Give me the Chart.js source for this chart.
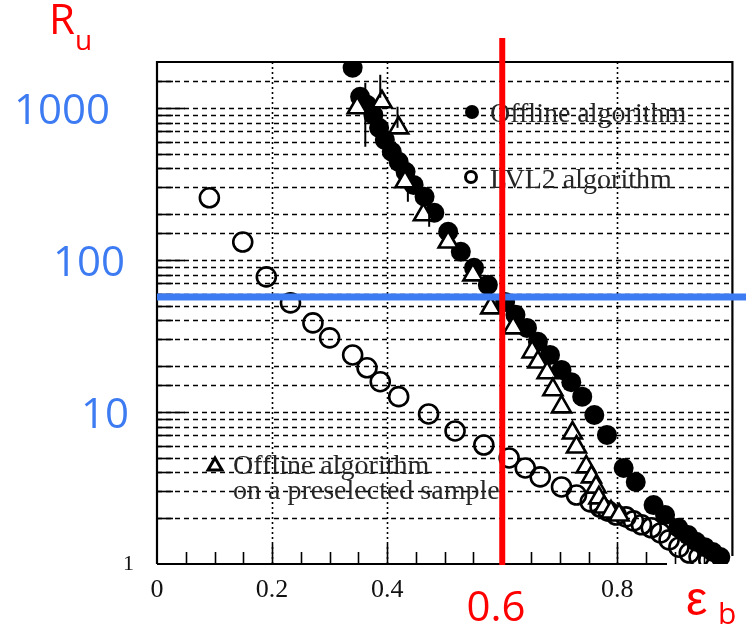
<!DOCTYPE html>
<html>
<head>
<meta charset="utf-8">
<script src="https://cdn.jsdelivr.net/npm/chart.js@4.4.1/dist/chart.umd.min.js"></script>
<style>
    html, body { margin: 0; padding: 0; background: #fff; }
    #wrap { width: 746px; height: 632px; }
</style>
</head>
<body>
<div id="wrap"><canvas id="chart" width="746" height="632"></canvas></div>
<script>
// Offline algorithm (filled circles)
const offlineX = [0.340, 0.353, 0.365, 0.376, 0.386, 0.396, 0.408, 0.420, 0.432, 0.446, 0.465, 0.482,
    0.506, 0.528, 0.551, 0.575, 0.605, 0.623, 0.643, 0.662, 0.683, 0.703, 0.720, 0.739,
    0.760, 0.782, 0.811, 0.832, 0.863, 0.883, 0.906, 0.923, 0.937, 0.952, 0.966, 0.979];
const offlineY = [1833, 1181, 1047, 899, 738, 615, 514, 441, 379, 311, 260, 204,
    153, 113, 88.6, 68.5, 52.9, 43.5, 35.7, 28.9, 23.7, 18.9, 15.7, 12.6,
    9.55, 7.06, 4.28, 3.46, 2.44, 2.10, 1.73, 1.55, 1.40, 1.29, 1.20, 1.11];

// LVL2 algorithm (open circles)
const lvl2X = [0.091, 0.149, 0.190, 0.232, 0.271, 0.300, 0.340, 0.365, 0.388, 0.420, 0.472, 0.518,
    0.568, 0.612, 0.640, 0.666, 0.703, 0.729, 0.753, 0.770, 0.784, 0.798, 0.815, 0.828,
    0.842, 0.859, 0.875, 0.890, 0.907, 0.925, 0.942, 0.959];
const lvl2Y = [256, 131, 77.3, 52.1, 38.5, 30.7, 23.7, 19.5, 15.8, 12.6, 9.70, 7.50,
    6.06, 4.98, 4.28, 3.74, 3.21, 2.84, 2.56, 2.37, 2.23, 2.10, 2.04, 1.92,
    1.81, 1.73, 1.60, 1.44, 1.29, 1.18, 1.11, 1.06];

// Offline algorithm on a preselected sample (open triangles)
const preselX = [0.348, 0.391, 0.420, 0.431, 0.463, 0.506, 0.549, 0.580, 0.619, 0.652, 0.662, 0.678,
    0.688, 0.703, 0.722, 0.729, 0.746, 0.755, 0.763, 0.768, 0.777, 0.789, 0.803];
const preselY = [1000, 1095, 738, 326, 198, 131, 79.7, 48.3, 35.7, 24.8, 21.3, 18.1,
    14.0, 10.8, 7.27, 5.88, 4.35, 3.74, 3.21, 2.72, 2.37, 2.20, 2.10];

// error bars on the steep part
const errX = [0.362, 0.388, 0.418, 0.436, 0.473];
const errLo = [554, 1164, 738, 241, 165];
const errHi = [1459, 1648, 1016, 298, 198];

// axis labels
const xTickLabels = [0, 0.2, 0.4, 0.8];
const yBigLabels = [1000, 100, 10];

// cut lines
const cutEff = 0.6;
const cutRej = 57;

const RED = '#ff0000';
const BLUE = '#3d7bf2';

const toPoints = (xs, ys) => xs.map((v, i) => ({ x: v, y: ys[i] }));

// grid, ticks, frame, annotations
const overlay = {
    id: 'overlay',
    beforeDatasetsDraw(chart) {
        const { ctx, chartArea: a, scales: { x, y } } = chart;
        ctx.save();

        // dashed horizontal grid at every log tick
        ctx.strokeStyle = '#000';
        ctx.lineWidth = 1.4;
        ctx.setLineDash([5, 4]);
        y.ticks.forEach(t => {
            if (t.value <= y.min || t.value >= y.max) return;
            const py = Math.round(y.getPixelForValue(t.value)) + 0.5;
            ctx.beginPath();
            ctx.moveTo(a.left, py);
            ctx.lineTo(a.right, py);
            ctx.stroke();
        });

        // dotted vertical grid every 0.2
        ctx.setLineDash([2, 3]);
        ctx.lineWidth = 1.6;
        x.ticks.forEach(t => {
            const k = Math.round(t.value * 100);
            if (k % 20 !== 0 || k <= 0 || k >= 100) return;
            const px = Math.round(x.getPixelForValue(t.value)) + 0.5;
            ctx.beginPath();
            ctx.moveTo(px, a.top);
            ctx.lineTo(px, a.bottom);
            ctx.stroke();
        });

        // solid inner ticks
        ctx.setLineDash([]);
        ctx.strokeStyle = '#000';
        ctx.lineWidth = 1.6;
        y.ticks.forEach(t => {
            if (t.value <= y.min || t.value >= y.max) return;
            const decade = Math.abs(Math.log10(t.value) - Math.round(Math.log10(t.value))) < 1e-6;
            const py = Math.round(y.getPixelForValue(t.value)) + 0.5;
            ctx.beginPath();
            ctx.moveTo(a.left, py);
            ctx.lineTo(a.left + (decade ? 28 : 16), py);
            ctx.stroke();
        });
        x.ticks.forEach(t => {
            const k = Math.round(t.value * 100);
            if (k <= 0 || k >= 100) return;
            const px = Math.round(x.getPixelForValue(t.value)) + 0.5;
            ctx.beginPath();
            ctx.moveTo(px, a.bottom);
            ctx.lineTo(px, a.bottom - (k % 20 === 0 ? 20 : 12));
            ctx.stroke();
        });

        // frame
        ctx.lineWidth = 2.2;
        ctx.beginPath();
        ctx.moveTo(a.left, a.bottom);
        ctx.lineTo(a.left, a.top);
        ctx.lineTo(a.right, a.top);
        ctx.lineTo(a.right, a.bottom - 8);
        ctx.moveTo(a.left, a.bottom);
        ctx.lineTo(a.left + 510, a.bottom);
        ctx.stroke();
        ctx.restore();
    },
    afterDatasetsDraw(chart) {
        const { ctx, scales: { x, y } } = chart;
        ctx.save();
        ctx.strokeStyle = '#000';
        ctx.lineWidth = 2;
        errX.forEach((v, i) => {
            const px = x.getPixelForValue(v);
            ctx.beginPath();
            ctx.moveTo(px, y.getPixelForValue(errLo[i]));
            ctx.lineTo(px, y.getPixelForValue(errHi[i]));
            ctx.stroke();
        });
        ctx.restore();
    },
    afterDraw(chart) {
        const { ctx, chartArea: a, scales: { x, y } } = chart;
        ctx.save();

        // legend inside the plot
        ctx.fillStyle = '#262626';
        ctx.font = '28px "Liberation Serif"';
        ctx.textBaseline = 'middle';
        ctx.textAlign = 'left';
        ctx.fillText('Offline algorithm', 490, 115);
        ctx.fillText('LVL2 algorithm', 490, 181);
        ctx.fillText('Offline algorithm', 233, 467);
        ctx.fillText('on a preselected sample', 233, 492);

        ctx.fillStyle = '#000';
        ctx.beginPath();
        ctx.arc(472, 112, 7, 0, Math.PI * 2);
        ctx.fill();
        ctx.strokeStyle = '#000';
        ctx.lineWidth = 3;
        ctx.beginPath();
        ctx.arc(471, 177, 5.5, 0, Math.PI * 2);
        ctx.stroke();
        ctx.beginPath();
        ctx.moveTo(215, 458);
        ctx.lineTo(222, 470);
        ctx.lineTo(208, 470);
        ctx.closePath();
        ctx.stroke();

        // blue rejection line
        const by = y.getPixelForValue(cutRej);
        ctx.fillStyle = BLUE;
        ctx.fillRect(a.left, by - 3.5, chart.width - a.left, 7);

        // red efficiency line
        const rx = x.getPixelForValue(cutEff);
        ctx.fillStyle = RED;
        ctx.fillRect(rx - 3, 38, 6, a.bottom + 1 - 38);

        // big blue y labels
        ctx.fillStyle = BLUE;
        ctx.font = '42px "Open Sans"';
        ctx.textAlign = 'right';
        const rightEdge = { 1000: 110, 100: 125, 10: 129 };
        yBigLabels.forEach(v => {
            ctx.fillText(String(v), rightEdge[v], y.getPixelForValue(v) + 4);
        });

        // red labels
        ctx.fillStyle = RED;
        ctx.textAlign = 'center';
        ctx.fillText(String(cutEff), 496, 609);
        ctx.textAlign = 'left';
        ctx.font = '42px "Open Sans"';
        ctx.fillText('R', 49, 22);
        ctx.font = '28px "Open Sans"';
        ctx.fillText('u', 75, 42);
        ctx.font = '48px "Liberation Sans"';
        ctx.fillText('ε', 686, 602);
        ctx.font = '30px "Open Sans"';
        ctx.fillText('b', 718, 615);
        ctx.restore();
    }
};

new Chart(document.getElementById('chart'), {
    type: 'scatter',
    data: {
        datasets: [
            {
                label: 'Offline algorithm on a preselected sample',
                data: toPoints(preselX, preselY),
                pointStyle: 'triangle',
                pointRadius: 11,
                pointBorderWidth: 2.6,
                borderColor: '#000',
                backgroundColor: '#fff'
            },
            {
                label: 'Offline algorithm',
                data: toPoints(offlineX, offlineY),
                pointStyle: 'circle',
                pointRadius: 10,
                pointBorderWidth: 0,
                borderColor: '#000',
                backgroundColor: '#000'
            },
            {
                label: 'LVL2 algorithm',
                data: toPoints(lvl2X, lvl2Y),
                pointStyle: 'circle',
                pointRadius: 9.5,
                pointBorderWidth: 2.6,
                borderColor: '#000',
                backgroundColor: 'rgba(0,0,0,0)'
            }
        ]
    },
    options: {
        responsive: false,
        animation: false,
        events: [],
        layout: { padding: { top: 62, right: 3, left: 0, bottom: 0 } },
        plugins: {
            legend: { display: false },
            tooltip: { enabled: false }
        },
        scales: {
            x: {
                type: 'linear',
                min: 0,
                max: 1,
                grid: { display: false },
                border: { display: false },
                afterFit: (s) => { s.height = 68; },
                ticks: {
                    stepSize: 0.05,
                    autoSkip: false,
                    maxRotation: 0,
                    padding: 3,
                    color: '#111',
                    font: { family: 'Liberation Serif', size: 26 },
                    callback: (v) => {
                        const k = Math.round(v * 100);
                        const hit = xTickLabels.find(t => Math.round(t * 100) === k);
                        return hit === undefined ? '' : String(hit);
                    }
                }
            },
            y: {
                type: 'logarithmic',
                min: 1,
                max: 2000,
                grid: { display: false },
                border: { display: false },
                afterFit: (s) => { s.width = 157; },
                ticks: {
                    autoSkip: false,
                    padding: 15,
                    color: '#111',
                    font: { family: 'Liberation Serif', size: 22 },
                    callback: (v) => (v === 1 ? '1' : '')
                }
            }
        }
    },
    plugins: [overlay]
});
</script>
</body>
</html>
